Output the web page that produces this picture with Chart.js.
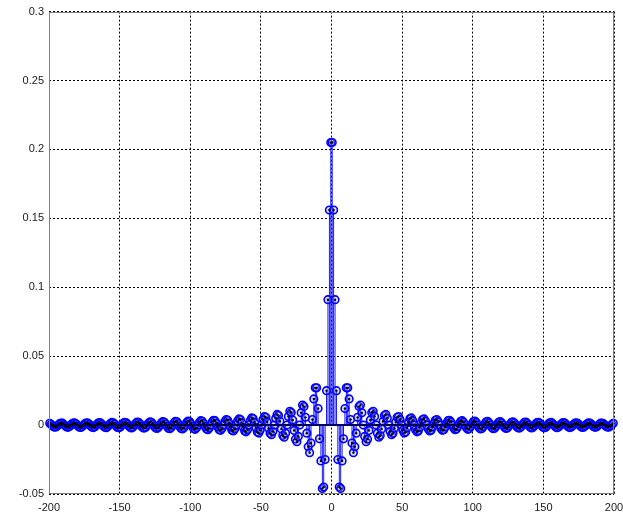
<!DOCTYPE html>
<html>
<head>
<meta charset="utf-8">
<script src="https://cdn.jsdelivr.net/npm/chart.js@4/dist/chart.umd.min.js"></script>
<style>
  html, body { margin: 0; padding: 0; background: #ffffff; }
  canvas { display: block; }
</style>
</head>
<body>
<canvas id="stemChart" width="623" height="515"></canvas>
<script>
// Impulse response samples, listed outward from the centre (x = ±0.5, ±1.5, ...)
const rightValues = [
  0.205, 0.156, 0.091, 0.025, -0.025, -0.045, -0.046, -0.026, -0.010,
  0.012, 0.027, 0.027, 0.019, 0.004, -0.013, -0.020, -0.0158, -0.0059,
  0.0056, 0.0134, 0.0145, 0.0090, 0, -0.0082, -0.0121, -0.0102, -0.0039,
  0.0037, 0.0091, 0.0100, 0.0063, 0, -0.0060, -0.0088, -0.0076, -0.0029,
  0.0028, 0.0069, 0.0077, 0.0049, 0, -0.0047, -0.0070, -0.0060, -0.0023,
  0.0023, 0.0056, 0.0062, 0.0040, 0, -0.0038, -0.0058, -0.0050, -0.0019,
  0.0019, 0.0047, 0.0052, 0.0034, 0, -0.0033, -0.0049, -0.0042, -0.0016,
  0.0016, 0.0040, 0.0045, 0.0029, 0, -0.0028, -0.0043, -0.0037, -0.0014,
  0.0014, 0.0035, 0.0040, 0.0026, 0, -0.0025, -0.0038, -0.0033, -0.0013,
  0.0013, 0.0032, 0.0035, 0.0023, 0, -0.0022, -0.0034, -0.0029, -0.0011,
  0.0011, 0.0028, 0.0032, 0.0021, 0, -0.0020, -0.0031, -0.0027, -0.0010,
  0.0010, 0.0026, 0.0029, 0.0019, 0, -0.0019, -0.0028, -0.0024, -0.0010,
  0.0009, 0.0024, 0.0027, 0.0017, 0, -0.0017, -0.0026, -0.0023, -0.0009,
  0.0009, 0.0022, 0.0025, 0.0016, 0, -0.0016, -0.0024, -0.0021, -0.0008,
  0.0008, 0.0020, 0.0023, 0.0015, 0, -0.0015, -0.0022, -0.0020, -0.0008,
  0.0008, 0.0019, 0.0022, 0.0014, 0, -0.0014, -0.0021, -0.0018, -0.0007,
  0.0007, 0.0018, 0.0020, 0.0013, 0, -0.0013, -0.0020, -0.0017, -0.0007,
  0.0007, 0.0017, 0.0019, 0.0012, 0, -0.0012, -0.0019, -0.0016, -0.0006,
  0.0006, 0.0016, 0.0018, 0.0012, 0, -0.0012, -0.0018, -0.0015, -0.0006,
  0.0006, 0.0015, 0.0017, 0.0011, 0, -0.0011, -0.0017, -0.0015, -0.0006,
  0.0006, 0.0014, 0.0016, 0.0011, 0, -0.0010, -0.0016, -0.0014, -0.0005,
  0.0005, 0.0014, 0.0015, 0.0010, 0, -0.0010, -0.0015, -0.0013, -0.0005,
  0.0005, 0.0013
];
const leftValues = [
  0.205, 0.156, 0.091, 0.025, -0.025, -0.045, -0.046, -0.026, -0.010,
  0.012, 0.027, 0.027, 0.019, 0.004, -0.013, -0.020, -0.0158, -0.0059,
  0.0056, 0.0134, 0.0145, 0.0090, 0, -0.0082, -0.0121, -0.0102, -0.0039,
  0.0037, 0.0091, 0.0100, 0.0063, 0, -0.0060, -0.0088, -0.0076, -0.0029,
  0.0028, 0.0069, 0.0077, 0.0049, 0, -0.0047, -0.0070, -0.0060, -0.0023,
  0.0023, 0.0056, 0.0062, 0.0040, 0, -0.0038, -0.0058, -0.0050, -0.0019,
  0.0019, 0.0047, 0.0052, 0.0034, 0, -0.0033, -0.0049, -0.0042, -0.0016,
  0.0016, 0.0040, 0.0045, 0.0029, 0, -0.0028, -0.0043, -0.0037, -0.0014,
  0.0014, 0.0035, 0.0040, 0.0026, 0, -0.0025, -0.0038, -0.0033, -0.0013,
  0.0013, 0.0032, 0.0035, 0.0023, 0, -0.0022, -0.0034, -0.0029, -0.0011,
  0.0011, 0.0028, 0.0032, 0.0021, 0, -0.0020, -0.0031, -0.0027, -0.0010,
  0.0010, 0.0026, 0.0029, 0.0019, 0, -0.0019, -0.0028, -0.0024, -0.0010,
  0.0009, 0.0024, 0.0027, 0.0017, 0, -0.0017, -0.0026, -0.0023, -0.0009,
  0.0009, 0.0022, 0.0025, 0.0016, 0, -0.0016, -0.0024, -0.0021, -0.0008,
  0.0008, 0.0020, 0.0023, 0.0015, 0, -0.0015, -0.0022, -0.0020, -0.0008,
  0.0008, 0.0019, 0.0022, 0.0014, 0, -0.0014, -0.0021, -0.0018, -0.0007,
  0.0007, 0.0018, 0.0020, 0.0013, 0, -0.0013, -0.0020, -0.0017, -0.0007,
  0.0007, 0.0017, 0.0019, 0.0012, 0, -0.0012, -0.0019, -0.0016, -0.0006,
  0.0006, 0.0016, 0.0018, 0.0012, 0, -0.0012, -0.0018, -0.0015, -0.0006,
  0.0006, 0.0015, 0.0017, 0.0011, 0, -0.0011, -0.0017, -0.0015, -0.0006,
  0.0006, 0.0014, 0.0016, 0.0011, 0, -0.0010, -0.0016, -0.0014, -0.0005,
  0.0005, 0.0014, 0.0015, 0.0010, 0, -0.0010, -0.0015, -0.0013, -0.0005,
  0.0005, 0.0013
];

// Axis ranges and tick positions
const xTicks = [-200, -150, -100, -50, 0, 50, 100, 150, 200];
const yTicks = [-0.05, 0, 0.05, 0.1, 0.15, 0.2, 0.25, 0.3];

// Sample positions: half-integer grid either side of zero
const samples = [];
for (let i = leftValues.length - 1; i >= 0; i--) samples.push({ x: -0.5 - i, y: leftValues[i] });
for (let i = 0; i < rightValues.length; i++) samples.push({ x: 0.5 + i, y: rightValues[i] });

// Grey box around the axes
const axesBox = {
  id: 'axesBox',
  afterDatasetsDraw(chart) {
    const { ctx, chartArea: a } = chart;
    ctx.save();
    ctx.strokeStyle = '#808080';
    ctx.lineWidth = 1;
    ctx.strokeRect(Math.round(a.left) + 0.5, Math.round(a.top) + 0.5,
                   Math.round(a.right - a.left) - 1, Math.round(a.bottom - a.top) - 1);
    ctx.restore();
  }
};

const tickFont = { family: 'Liberation Sans, Arial, sans-serif', size: 11 };

new Chart(document.getElementById('stemChart'), {
  type: 'scatter',
  data: {
    datasets: [
      {
        type: 'bar',
        data: samples,
        backgroundColor: '#0000ff',
        borderWidth: 0,
        barThickness: 0.9,
        inflateAmount: 0,
        order: 3
      },
      {
        type: 'scatter',
        data: samples,
        pointStyle: 'circle',
        pointRadius: 3.8,
        pointBorderWidth: 1.6,
        pointBorderColor: '#0000ff',
        pointBackgroundColor: 'rgba(150,150,255,0.3)',
        clip: false,
        order: 2
      },
      {
        type: 'line',
        data: [{ x: -200, y: 0 }, { x: 200, y: 0 }],
        borderColor: '#000066',
        borderWidth: 2,
        pointRadius: 0,
        order: 1
      },
      {
        type: 'scatter',
        data: samples,
        pointStyle: 'circle',
        pointRadius: 1.2,
        pointBorderWidth: 0,
        pointBackgroundColor: '#000000',
        clip: false,
        order: 0
      }
    ]
  },
  options: {
    responsive: false,
    animation: false,
    events: [],
    layout: { padding: { top: 11, right: 0, left: 0, bottom: 0 } },
    plugins: { legend: { display: false }, tooltip: { enabled: false } },
    scales: {
      x: {
        type: 'linear',
        min: -200, max: 200,
        offset: false,
        afterBuildTicks(scale) { scale.ticks = xTicks.map(v => ({ value: v })); },
        afterFit(scale) {
          scale.height = 21;
          scale.paddingLeft = 0;
          scale.paddingRight = 9;
        },
        ticks: {
          font: tickFont, color: '#1a1a1a', padding: 7, maxRotation: 0,
          autoSkip: false,
          callback: v => String(v)
        },
        grid: { color: '#000000', lineWidth: 1, drawTicks: false, offset: false },
        border: { display: false, dash: [2, 2] }
      },
      y: {
        type: 'linear',
        min: -0.05, max: 0.3,
        afterBuildTicks(scale) { scale.ticks = yTicks.map(v => ({ value: v })); },
        afterFit(scale) { scale.width = 49; },
        ticks: {
          font: tickFont, color: '#1a1a1a', padding: 5,
          autoSkip: false,
          callback: v => String(Number(v.toFixed(2)))
        },
        grid: { color: '#000000', lineWidth: 1, drawTicks: false },
        border: { display: false, dash: [2, 2] }
      }
    }
  },
  plugins: [axesBox]
});
</script>
</body>
</html>
